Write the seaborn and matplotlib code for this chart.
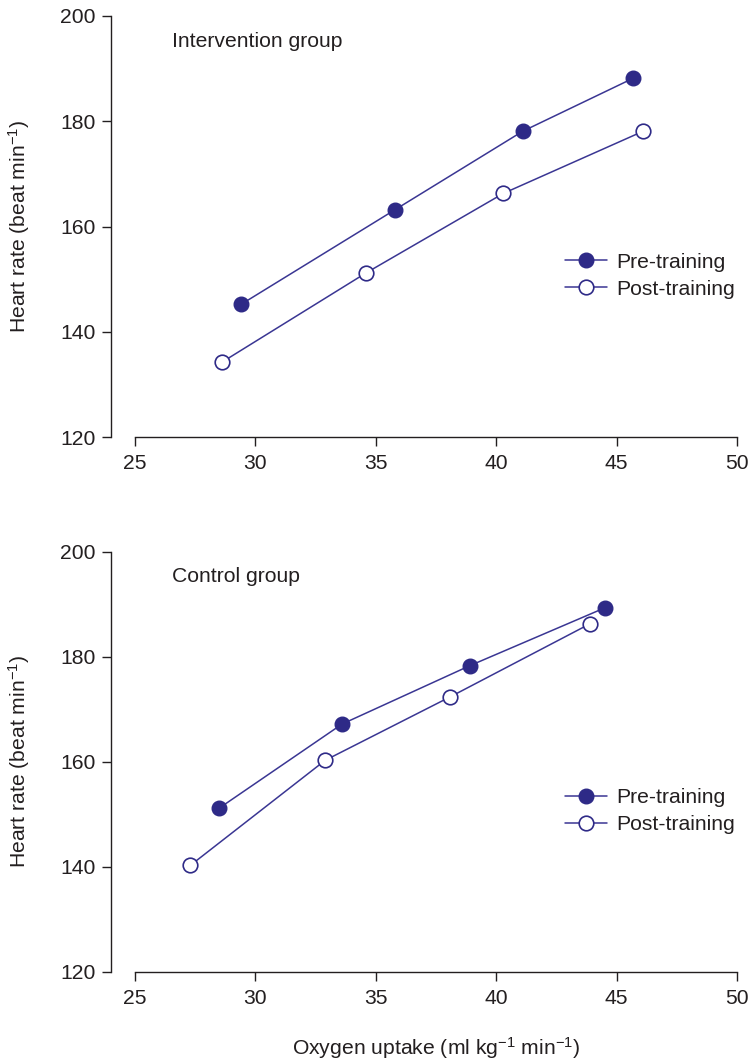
import matplotlib
matplotlib.use("Agg")
import matplotlib.pyplot as plt
import seaborn as sns
import pandas as pd

# Oxygen uptake (ml kg-1 min-1) and heart rate (beat min-1) per stage
intervention_pre_vo2 = [29.4, 35.8, 41.1, 45.7]
intervention_pre_hr = [145.2, 163.2, 178.1, 188.2]
intervention_post_vo2 = [28.6, 34.6, 40.3, 46.1]
intervention_post_hr = [134.2, 151.2, 166.3, 178.1]

control_pre_vo2 = [28.5, 33.6, 38.9, 44.5]
control_pre_hr = [151.2, 167.2, 178.3, 189.3]
control_post_vo2 = [27.3, 32.9, 38.1, 43.9]
control_post_hr = [140.3, 160.3, 172.4, 186.3]

panel_titles = ["Intervention group", "Control group"]
series_labels = ["Pre-training", "Post-training"]
x_ticks = [25, 30, 35, 40, 45, 50]
y_ticks = [120, 140, 160, 180, 200]

sns.set_theme(style="ticks")
plt.rcParams["font.family"] = ["Liberation Sans", "DejaVu Sans"]
plt.rcParams["mathtext.fontset"] = "custom"
plt.rcParams["mathtext.rm"] = "Liberation Sans"
plt.rcParams["mathtext.it"] = "Liberation Sans"

NAVY = "#2e2a87"
LINE = "#3a3693"
TEXT = "#231f20"
FS = 15.2

fig = plt.figure(figsize=(7.51, 10.59), dpi=100)
ax_top = fig.add_axes([0.1798, 0.5873, 0.8016, 0.3976])
ax_bot = fig.add_axes([0.1798, 0.0822, 0.8016, 0.3968])

panels = [
    (ax_top, panel_titles[0],
     intervention_pre_vo2, intervention_pre_hr,
     intervention_post_vo2, intervention_post_hr),
    (ax_bot, panel_titles[1],
     control_pre_vo2, control_pre_hr,
     control_post_vo2, control_post_hr),
]

ylab = r"Heart rate (beat min$\mathregular{^{-1}}$)"

for ax, title, pre_x, pre_y, post_x, post_y in panels:
    pre = pd.DataFrame({"vo2": pre_x, "hr": pre_y})
    post = pd.DataFrame({"vo2": post_x, "hr": post_y})
    sns.lineplot(data=pre, x="vo2", y="hr", ax=ax, color=LINE, lw=1.1,
                 marker="o", markersize=10.5, markerfacecolor=NAVY,
                 markeredgecolor=NAVY, markeredgewidth=1.0,
                 label=series_labels[0], sort=False)
    sns.lineplot(data=post, x="vo2", y="hr", ax=ax, color=LINE, lw=1.1,
                 marker="o", markersize=10.5, markerfacecolor="white",
                 markeredgecolor=NAVY, markeredgewidth=1.2,
                 label=series_labels[1], sort=False)

    ax.set_xlim(25, 50)
    ax.set_ylim(120, 200)
    ax.set_xticks(x_ticks)
    ax.set_yticks(y_ticks)
    for s in ("top", "right"):
        ax.spines[s].set_visible(False)
    ax.spines["left"].set_position(("outward", 17))
    for s in ("left", "bottom"):
        ax.spines[s].set_color(TEXT)
        ax.spines[s].set_linewidth(1.0)
    ax.tick_params(axis="both", direction="out", length=6.5, width=1.0,
                   colors=TEXT, labelsize=FS)
    ax.tick_params(axis="y", pad=5)
    ax.tick_params(axis="x", pad=6)

    ax.text(0.062, 0.94, title, transform=ax.transAxes, fontsize=FS,
            color=TEXT, ha="left", va="center")

    ax.set_ylabel(ylab, fontsize=FS, color=TEXT)
    ax.yaxis.set_label_coords(-0.171, 0.5)
    ax.set_xlabel("")

    leg = ax.legend(loc="upper left", bbox_to_anchor=(0.70, 0.458),
                    frameon=False, fontsize=FS, handlelength=2.0,
                    handletextpad=0.45, labelspacing=0.38, borderaxespad=0)
    for t in leg.get_texts():
        t.set_color(TEXT)

ax_bot.set_xlabel(r"Oxygen uptake (ml kg$\mathregular{^{-1}}$ min$\mathregular{^{-1}}$)",
                  fontsize=FS, color=TEXT, labelpad=19)

fig.savefig("out.png", dpi=100, facecolor="white")
